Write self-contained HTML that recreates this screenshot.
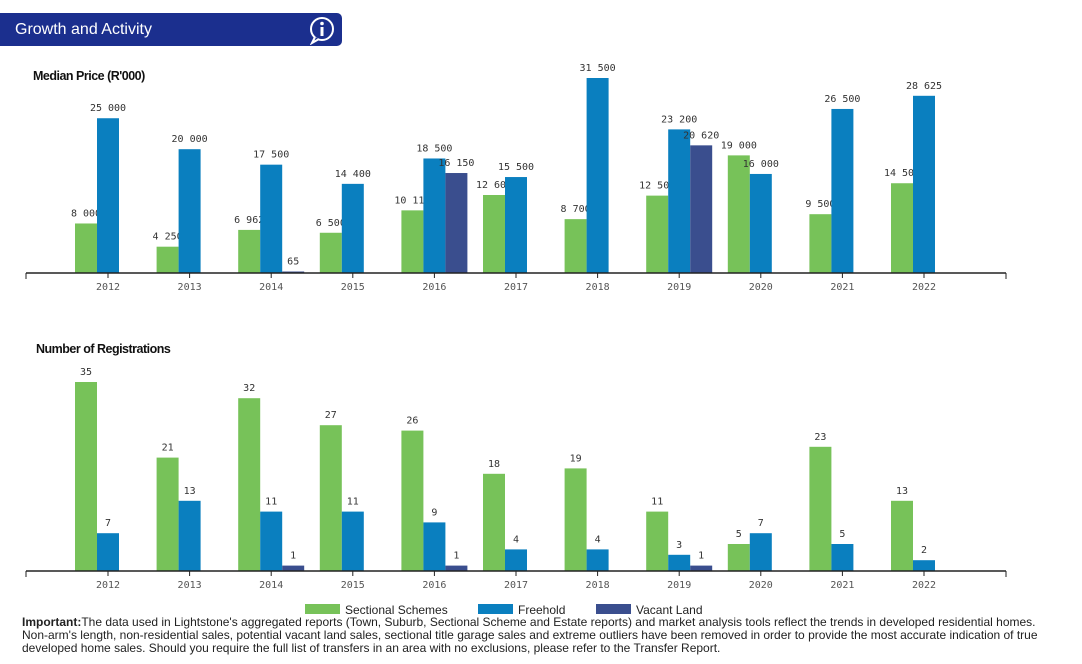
<!DOCTYPE html>
<html><head><meta charset="utf-8">
<style>
body{margin:0;width:1082px;height:664px;background:#fff;overflow:hidden;font-family:"Liberation Sans",sans-serif;position:relative}
.hdr{position:absolute;left:0;top:13px;width:342px;height:33px;background:#1b2f8e;border-radius:0 5px 5px 0}
.hdr span{position:absolute;left:15px;top:8px;color:#fff;font-size:16px}
.note{position:absolute;left:22px;top:616px;width:1060px;font-size:12px;line-height:13px;color:#222;white-space:nowrap}
</style></head><body>
<div class="hdr"><span>Growth and Activity</span>
<svg style="position:absolute;left:307px;top:2px" width="30" height="30" viewBox="0 0 30 30"><circle cx="15" cy="14" r="11" fill="none" stroke="#fff" stroke-width="2"/><path d="M8 22 L5 28 L12 24" fill="#1b2f8e" stroke="#fff" stroke-width="2"/><circle cx="15" cy="8.5" r="1.8" fill="#fff"/><rect x="13.5" y="12" width="3" height="9" fill="#fff"/></svg></div>
<svg id="c" width="1082" height="664" style="position:absolute;left:0;top:0"></svg>
<div class="note"><b>Important:</b>The data used in Lightstone's aggregated reports (Town, Suburb, Sectional Scheme and Estate reports) and market analysis tools reflect the trends in developed residential homes.<br>Non-arm's length, non-residential sales, potential vacant land sales, sectional title garage sales and extreme outliers have been removed in order to provide the most accurate indication of true<br>developed home sales. Should you require the full list of transfers in an area with no exclusions, please refer to the Transfer Report.</div>
<script>
const years=["2012","2013","2014","2015","2016","2017","2018","2019","2020","2021","2022"];
const priceSectional=[8000,4250,6962,6500,10118,12600,8700,12500,19000,9500,14500];
const priceFreehold=[25000,20000,17500,14400,18500,15500,31500,23200,16000,26500,28625];
const priceVacant=[null,null,65,null,16150,null,null,20620,null,null,null];
const regSectional=[35,21,32,27,26,18,19,11,5,23,13];
const regFreehold=[7,13,11,11,9,4,4,3,7,5,2];
const regVacant=[null,null,1,null,1,null,null,1,null,null,null];
const colors=["#77c259","#0a7fbf","#3a4e8e"];
const NS="http://www.w3.org/2000/svg";
const svg=document.getElementById('c');
function mk(t,a,p){const e=document.createElementNS(NS,t);for(const k in a)e.setAttribute(k,a[k]);(p||svg).appendChild(e);return e;}
function fmt(v){return String(v).replace(/\B(?=(\d{3})+(?!\d))/g," ");}
const x=i=>108+i*81.6;
function chart(name,title,titleY,base,scale,series){
  const g=mk('g',{});
  
  
  const t=mk('text',{x:name=='price'?33:36,y:titleY,'font-size':12.5,'font-weight':'bold',fill:'#111','letter-spacing':'-0.5'},g);
  t.textContent=title;
  
  
  series.forEach((s,si)=>{
    s.forEach((v,i)=>{
      if(v==null)return;
      const h=Math.max(v*scale,1.5), bx=x(i)-33+si*22;
      const r=mk('rect',{x:bx,y:base-h,width:22,height:h,fill:colors[si]},g);
      
      
      const l=mk('text',{x:bx+11,y:base-h-7,'text-anchor':'middle','font-size':10,fill:'#333','font-family':'DejaVu Sans Mono,monospace'},g);
      l.textContent=fmt(v);
      
      
    });
  });
  const ax=mk('line',{x1:26,x2:1006,y1:base,y2:base,stroke:'#222','stroke-width':1.5},g);
  
  
  [26,1006].forEach(px=>mk('line',{x1:px,x2:px,y1:base,y2:base+6,stroke:'#222'},g));
  years.forEach((y,i)=>{
    mk('line',{x1:x(i),x2:x(i),y1:base,y2:base+5,stroke:'#222'},g);
    const tl=mk('text',{x:x(i),y:base+17,'text-anchor':'middle','font-size':10,fill:'#555','font-family':'DejaVu Sans Mono,monospace'},g);
    tl.textContent=y;
    
    
  });
}
chart('price',"Median Price (R'000)",80,273,195/31500,[priceSectional,priceFreehold,priceVacant]);
chart('registrations',"Number of Registrations",353,571,5.4,[regSectional,regFreehold,regVacant]);
const legend=[["Sectional Schemes",305],["Freehold",478],["Vacant Land",596]];
legend.forEach((l,i)=>{
  const g=mk('g',{});
  
  
  mk('rect',{x:l[1],y:604,width:35,height:10,fill:colors[i]},g);
  const t=mk('text',{x:l[1]+40,y:614,'font-size':12,fill:'#222'},g);
  t.textContent=l[0];
});
</script>
</body></html>
